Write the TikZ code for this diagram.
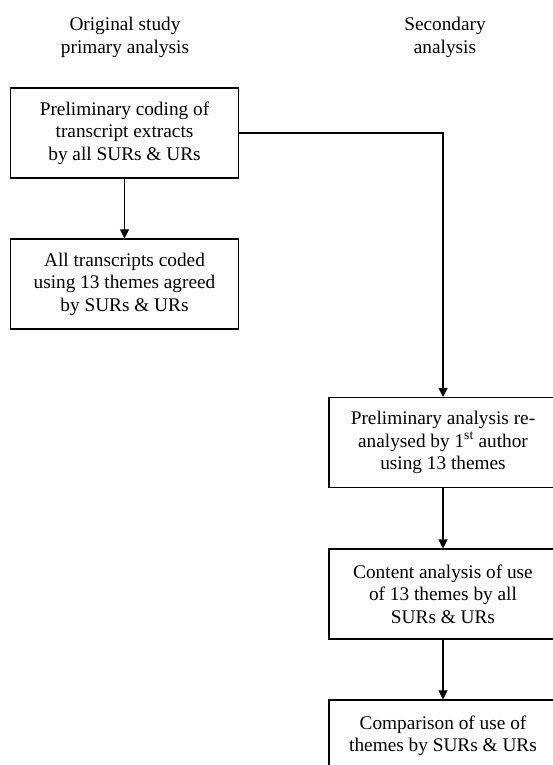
\documentclass[tikz,border=0pt]{standalone}
\usepackage{fontspec}
\setmainfont{Liberation Serif}
\usetikzlibrary{arrows.meta}
\begin{document}
\begin{tikzpicture}[x=1pt,y=-1pt,
  every node/.style={font=\fontsize{19.3}{22.5}\selectfont, align=center},
  flowbox/.style={draw, line width=1.1pt, minimum width=228pt, minimum height=90pt, inner sep=2pt},
  hdr/.style={inner sep=0pt},
  conn/.style={line width=1.1pt, -{Triangle[length=9pt,width=9pt]}}]
\path[use as bounding box] (0,0) rectangle (553,765);
\clip (0,0) rectangle (553,765);
\node[hdr] (h1) at (125,37.5) {Original study\\primary analysis};
\node[hdr] (h2) at (445,37.5) {Secondary\\analysis};
\node[flowbox] (b1) at (124.5,133) {Preliminary coding of\\transcript extracts\\by all SURs \& URs};
\node[flowbox] (b2) at (124.5,284) {All transcripts coded\\using 13 themes agreed\\by SURs \& URs};
\node[flowbox] (b3) at (443,442.5) {Preliminary analysis re-\\analysed by 1\textsuperscript{st} author\\using 13 themes};
\node[flowbox] (b4) at (443,594) {Content analysis of use\\of 13 themes by all\\SURs \& URs};
\node[flowbox, minimum height=72pt] (b5) at (443,736) {Comparison of use of\\themes by SURs \& URs};
\coordinate (k) at (443,133);
\draw[conn] (b1) -- (b2);
\draw[conn] (b1.east) -- (k) -- (b3.north);
\draw[conn] (b3) -- (b4);
\draw[conn] (b4) -- (b5);
\end{tikzpicture}
\end{document}
